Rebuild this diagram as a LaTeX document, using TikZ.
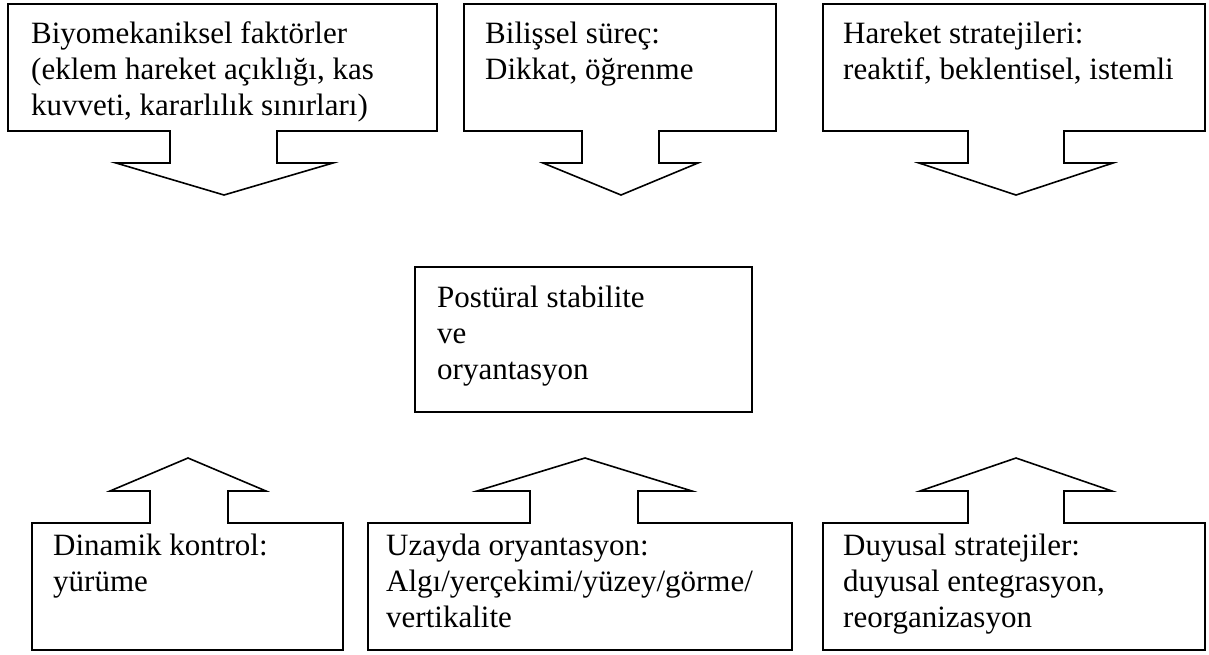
\documentclass[tikz,border=0pt]{standalone}
\usepackage{fontspec}
\setmainfont{Liberation Serif}
\begin{document}
\begin{tikzpicture}[x=1pt,y=-1pt,
  shapeline/.style={draw=black,line width=1.6pt,line join=miter,fill=white},
  txt/.style={anchor=base west,inner sep=0pt,font=\fontsize{31}{36}\selectfont}]
\useasboundingbox (0,0) rectangle (1209,654);
% top-left callout
\draw[shapeline] (8,4) -- (437,4) -- (437,131) -- (277,131) -- (277,163) -- (333,163) -- (224,195) -- (116,163) -- (170,163) -- (170,131) -- (8,131) -- cycle;
% top-middle callout
\draw[shapeline] (464,4) -- (776,4) -- (776,131) -- (659,131) -- (659,163) -- (698,163) -- (621,195) -- (543,163) -- (582,163) -- (582,131) -- (464,131) -- cycle;
% top-right callout
\draw[shapeline] (823,4) -- (1205,4) -- (1205,131) -- (1064,131) -- (1064,163) -- (1113,163) -- (1016,195) -- (919,163) -- (968,163) -- (968,131) -- (823,131) -- cycle;
% centre box
\draw[shapeline] (415,267) rectangle (752,412);
% bottom-left callout
\draw[shapeline] (32,650) -- (32,523) -- (150,523) -- (150,491) -- (110,491) -- (188,458) -- (266,491) -- (228,491) -- (228,523) -- (343,523) -- (343,650) -- cycle;
% bottom-middle callout
\draw[shapeline] (368,650) -- (368,523) -- (530,523) -- (530,491) -- (477,491) -- (585,458) -- (692,491) -- (638,491) -- (638,523) -- (792,523) -- (792,650) -- cycle;
% bottom-right callout
\draw[shapeline] (823,650) -- (823,523) -- (968,523) -- (968,491) -- (920,491) -- (1016,458) -- (1112,491) -- (1064,491) -- (1064,523) -- (1205,523) -- (1205,650) -- cycle;
% texts
\node[txt] (tl1) at (31,43) {Biyomekaniksel faktörler};
\node[txt] (tl2) at (31,79) {(eklem hareket açıklığı, kas};
\node[txt] (tl3) at (31,115) {kuvveti, kararlılık sınırları)};
\node[txt] (tm1) at (485,43) {Bilişsel süreç:};
\node[txt] (tm2) at (485,79) {Dikkat, öğrenme};
\node[txt] (tr1) at (843,43) {Hareket stratejileri:};
\node[txt] (tr2) at (843,79) {reaktif, beklentisel, istemli};
\node[txt] (c1) at (437,307) {Postüral stabilite};
\node[txt] (c2) at (437,343) {ve};
\node[txt] (c3) at (437,379) {oryantasyon};
\node[txt] (bl1) at (53,555) {Dinamik kontrol:};
\node[txt] (bl2) at (53,591) {yürüme};
\node[txt] (bm1) at (386,555) {Uzayda oryantasyon:};
\node[txt] (bm2) at (386,591) {Algı/yerçekimi/yüzey/görme/};
\node[txt] (bm3) at (386,627) {vertikalite};
\node[txt] (br1) at (843,555) {Duyusal stratejiler:};
\node[txt] (br2) at (843,591) {duyusal entegrasyon,};
\node[txt] (br3) at (843,627) {reorganizasyon};
\end{tikzpicture}
\end{document}
